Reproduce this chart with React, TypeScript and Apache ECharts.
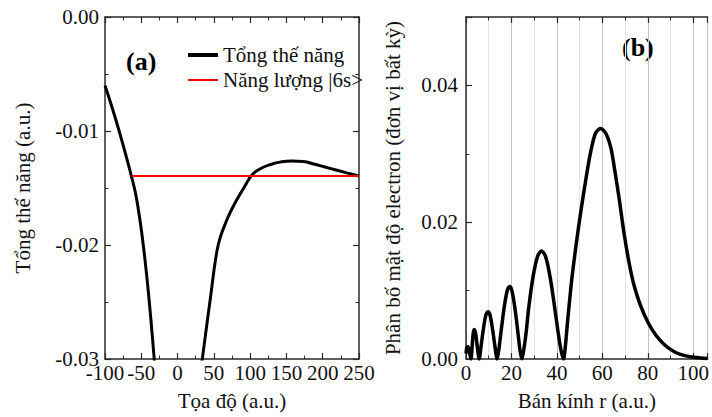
import React, { useEffect, useRef } from "react";
import * as echarts from "echarts";

// Panel (a): total potential (two branches) and |6s> energy level
const potentialLeft: [number, number][] = [
  [-100, -0.006], [-90, -0.00798], [-80, -0.01012], [-70, -0.01241], [-62, -0.01436],
  [-58, -0.01545], [-54, -0.0169], [-50, -0.01864], [-46, -0.02068], [-42, -0.02302],
  [-38.5, -0.02531], [-35.5, -0.02746], [-32.5, -0.02977], [-31, -0.03099], [-30, -0.0318],
];
const potentialRight: [number, number][] = [
  [31.5, -0.0312], [34.1, -0.03], [38, -0.0281], [42.4, -0.026], [47, -0.0238],
  [50, -0.0223], [53, -0.021], [56, -0.02], [60, -0.0191], [65, -0.01826],
  [70, -0.01749], [77, -0.01658], [85, -0.01566], [93, -0.0148], [97, -0.01437],
  [101, -0.01397], [105, -0.0137], [109, -0.0135], [118, -0.01318], [127, -0.01296],
  [141, -0.01273], [157, -0.01263], [173, -0.01268], [189, -0.01292], [203, -0.01316],
  [217, -0.0134], [233, -0.01367], [250, -0.01395],
];
const energyLevel: [number, number][] = [[-63.5, -0.01395], [250, -0.01395]];

// Panel (b): radial electron density
const radius = [
  0, 0.4, 0.9, 1.5, 2.2,
  2.7, 3.2, 3.7, 4.3, 5.0, 5.8,
  6.6, 7.7, 8.8, 9.7, 10.6, 11.7, 12.8, 13.7,
  14.5, 15.6, 17.0, 18.3, 19.2, 20.2, 21.5, 22.8, 23.8, 24.6,
  25.5, 26.5, 27.6, 29.5, 31.5, 33.2, 35.0, 37.0, 38.9, 40.5, 41.8, 42.9,
  43.7, 44.7, 46.5, 48.5, 50.5, 53.0, 55.0, 57.0, 59.2, 61.5, 63.8, 65.5, 67.5, 69.5,
  71.8, 74.0, 76.6, 80.0, 83.5, 87.0, 90.5, 94.0, 100.0, 106.3,
];
const density = [
  0.0008, 0.0017, 0.0018, 0.001, 0.0,
  0.0018, 0.0038, 0.0043, 0.0036, 0.0017, 0.0,
  0.0018, 0.0045, 0.0065, 0.0069, 0.0064, 0.0043, 0.0017, 0.0,
  0.0015, 0.0045, 0.008, 0.0102, 0.0106, 0.01, 0.0075, 0.004, 0.0012, 0.0,
  0.0015, 0.004, 0.0075, 0.012, 0.015, 0.0158, 0.015, 0.012, 0.0078, 0.004, 0.0013, 0.0,
  0.0018, 0.0055, 0.0115, 0.0168, 0.0215, 0.0268, 0.0305, 0.033, 0.0337, 0.033, 0.0308, 0.0275, 0.0232, 0.0185,
  0.014, 0.0107, 0.008, 0.0054, 0.0035, 0.0022, 0.0013, 0.0007, 0.00025, 0.00008,
];

const seriesNames = ["Tổng thế năng", "Năng lượng |6s>"];
const panelLabels = ["(a)", "(b)"];
const axisTitles = {
  ax: "Tọa độ (a.u.)",
  ay: "Tổng thế năng (a.u.)",
  bx: "Bán kính r (a.u.)",
  by: "Phân bố mật độ electron (đơn vị bất kỳ)",
};

const FONT = "'Liberation Serif', 'Times New Roman', serif";
const AX = "#2a2a2a";

const line = { show: true, onZero: false, lineStyle: { color: AX, width: 1.5 } };
const tick = (show = true) => ({ show, inside: true, length: 6, lineStyle: { color: AX, width: 1.2 } });
const minor = (show = true) => ({ show, splitNumber: 2, length: 3.5, lineStyle: { color: AX, width: 1 } });
const label = (show: boolean, fmt?: (v: number) => string, margin = 6) => ({
  show,
  fontFamily: FONT,
  fontSize: 21,
  color: "#111",
  margin,
  formatter: fmt,
});
const nameStyle = { fontFamily: FONT, fontSize: 21, color: "#111" };
const legendText = { fontFamily: FONT, fontSize: 21, color: "#111", lineHeight: 22 };

export default function App() {
  const ref = useRef<HTMLDivElement>(null);
  useEffect(() => {
    if (!ref.current) return;
    const chart = echarts.init(ref.current, null, { renderer: "svg" });
    const densityData = radius.map((r, i) => [r, density[i]]);
    chart.setOption({
      animation: false,
      backgroundColor: "#fff",
      grid: [
        { left: 105, top: 17, width: 254, height: 342 },
        { left: 466, top: 17, width: 246, height: 342 },
      ],
      legend: [
        {
          orient: "vertical", left: 183, top: 39, itemWidth: 30, itemHeight: 4,
          icon: "rect", data: [seriesNames[0]], textStyle: legendText,
        },
        {
          orient: "vertical", left: 183, top: 64, itemWidth: 30, itemHeight: 2,
          icon: "rect", data: [seriesNames[1]], textStyle: legendText,
        },
      ],
      xAxis: [
        {
          type: "value", gridIndex: 0, min: -100, max: 250, interval: 50, position: "bottom",
          axisLine: line, axisTick: tick(), minorTick: minor(),
          axisLabel: label(true, (v: number) => String(v), 3),
          splitLine: { show: false },
          name: axisTitles.ax, nameLocation: "middle", nameGap: 31, nameTextStyle: nameStyle,
        },
        {
          type: "value", gridIndex: 0, min: -100, max: 250, interval: 50, position: "top",
          axisLine: line, axisTick: tick(), minorTick: minor(), axisLabel: label(false),
          splitLine: { show: false },
        },
        {
          type: "value", gridIndex: 1, min: 0, max: 106.3, interval: 20, position: "bottom",
          axisLine: line, axisTick: tick(), minorTick: minor(),
          axisLabel: label(true, (v: number) => (v > 101 ? "" : String(v)), 3),
          splitLine: { show: true, lineStyle: { color: "#c4c4c4", width: 1 } },
          minorSplitLine: { show: true, lineStyle: { color: "#e4e4e4", width: 1 } },
          name: axisTitles.bx, nameLocation: "middle", nameGap: 31, nameTextStyle: nameStyle,
        },
        {
          type: "value", gridIndex: 1, min: 0, max: 106.3, interval: 20, position: "top",
          axisLine: line, axisTick: tick(), minorTick: minor(), axisLabel: label(false),
          splitLine: { show: false },
        },
      ],
      yAxis: [
        {
          type: "value", gridIndex: 0, min: -0.03, max: 0, interval: 0.01, position: "left",
          axisLine: line, axisTick: tick(), minorTick: minor(),
          axisLabel: label(true, (v: number) => v.toFixed(2), 6),
          splitLine: { show: false },
          name: axisTitles.ay, nameLocation: "middle", nameGap: 72, nameTextStyle: nameStyle,
        },
        {
          type: "value", gridIndex: 0, min: -0.03, max: 0, interval: 0.01, position: "right",
          axisLine: line, axisTick: tick(), minorTick: minor(), axisLabel: label(false),
          splitLine: { show: false },
        },
        {
          type: "value", gridIndex: 1, min: 0, max: 0.05, interval: 0.02, position: "left",
          axisLine: line, axisTick: tick(), minorTick: minor(),
          axisLabel: label(true, (v: number) => (v > 0.045 ? "" : v.toFixed(2)), 8),
          splitLine: { show: false },
          name: axisTitles.by, nameLocation: "middle", nameGap: 63, nameTextStyle: nameStyle,
        },
      ],
      series: [
        {
          name: seriesNames[0], type: "line", xAxisIndex: 0, yAxisIndex: 0,
          data: potentialLeft, smooth: 0.5, showSymbol: false, symbol: "none",
          lineStyle: { color: "#000", width: 3 }, itemStyle: { color: "#000" }, z: 3,
        },
        {
          name: seriesNames[0], type: "line", xAxisIndex: 0, yAxisIndex: 0,
          data: potentialRight, smooth: 0.5, showSymbol: false, symbol: "none",
          lineStyle: { color: "#000", width: 3 }, itemStyle: { color: "#000" }, z: 3,
        },
        {
          name: seriesNames[1], type: "line", xAxisIndex: 0, yAxisIndex: 0,
          data: energyLevel, showSymbol: false, symbol: "none",
          lineStyle: { color: "#ff0000", width: 2 }, itemStyle: { color: "#ff0000" }, z: 4,
        },
        {
          name: "density", type: "line", xAxisIndex: 2, yAxisIndex: 2,
          data: densityData, smooth: 0.3, showSymbol: false, symbol: "none",
          lineStyle: { color: "#000", width: 3.5, join: "round" }, z: 3,
        },
      ],
      graphic: [
        {
          type: "text", left: 126, top: 48,
          style: { text: panelLabels[0], font: `bold 26px ${FONT}`, fill: "#000" },
        },
        {
          type: "text", left: 622, top: 34,
          style: { text: panelLabels[1], font: `bold 26px ${FONT}`, fill: "#000" },
        },
      ],
    });
    return () => chart.dispose();
  }, []);
  return (
    <div
      ref={ref}
      style={{ position: "absolute", left: 0, top: 0, width: 712, height: 417 }}
    />
  );
}
